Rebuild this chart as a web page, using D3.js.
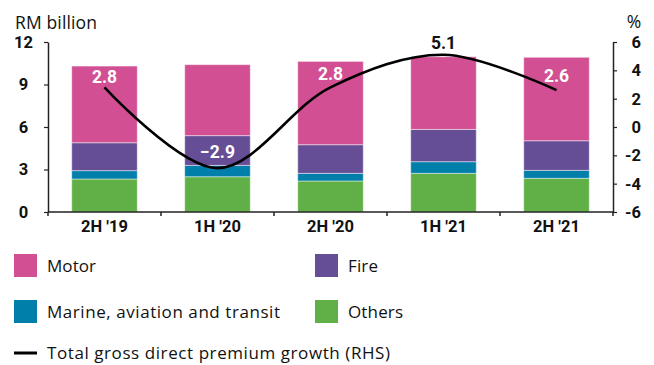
<!DOCTYPE html>
<html>
<head>
<meta charset="utf-8">
<script src="https://cdn.jsdelivr.net/npm/d3@7"></script>
<style>
  html, body { margin: 0; padding: 0; background: #fff; }
  svg { display: block; font-family: Roboto, "Noto Sans", sans-serif; }
  .reg { font-family: "Open Sans", "Noto Sans", sans-serif; }
</style>
</head>
<body>
<svg id="chart" width="654" height="365"></svg>
<script>
// Half-year periods
const periods = ["2H '19", "1H '20", "2H '20", "1H '21", "2H '21"];

// Gross direct premiums by class (RM billion)
const others = [2.33, 2.49, 2.19, 2.73, 2.38];
const marine = [0.59, 0.80, 0.54, 0.82, 0.56];
const fire   = [1.97, 2.10, 2.02, 2.28, 2.09];
const motor  = [5.41, 5.01, 5.88, 5.13, 5.89];

// Total gross direct premium growth (%, RHS)
const growth = [2.8, -2.9, 2.8, 5.1, 2.6];

const leftTicks  = [0, 3, 6, 9, 12];
const rightTicks = [-6, -4, -2, 0, 2, 4, 6];

const seriesNames  = ["Others", "Marine, aviation and transit", "Fire", "Motor"];
const seriesColors = ["#60AF47", "#007FAB", "#664E96", "#D14F92"];

const svg = d3.select("#chart");
const margin = { left: 48, right: 41, top: 42, bottom: 153 };
const W = 654, H = 365;

const x = d3.scaleBand().domain(periods)
  .range([margin.left, W - margin.right]).paddingInner(0.42).paddingOuter(0.21);
const xPoint = d => x(d) + x.bandwidth() / 2;
const yL = d3.scaleLinear().domain([0, 12]).range([H - margin.bottom, margin.top]);
const yR = d3.scaleLinear().domain([-6, 6]).range([H - margin.bottom, margin.top]);

// Stacked bars
const rows = periods.map((p, i) => ({
  period: p,
  "Others": others[i],
  "Marine, aviation and transit": marine[i],
  "Fire": fire[i],
  "Motor": motor[i]
}));
const stacked = d3.stack().keys(seriesNames)(rows);

svg.append("g").selectAll("g").data(stacked).join("g")
  .attr("fill", (d, i) => seriesColors[i])
  .selectAll("rect").data(d => d).join("rect")
  .attr("x", d => x(d.data.period))
  .attr("width", x.bandwidth())
  .attr("y", d => yL(d[1]))
  .attr("height", d => yL(d[0]) - yL(d[1]))
  .attr("stroke", "#fff")
  .attr("stroke-opacity", 0.45)
  .attr("stroke-width", 1);

// Axes
const axisColor = "#222";

// Left axis
const gL = svg.append("g").attr("transform", `translate(${margin.left},0)`)
  .call(d3.axisLeft(yL).tickValues(leftTicks).tickSize(4).tickSizeOuter(0));
gL.selectAll("text").remove();
svg.append("g").selectAll("text").data(leftTicks).join("text")
  .attr("x", 23.5).attr("y", d => yL(d)).attr("dy", "0.36em")
  .attr("text-anchor", "middle")
  .style("font-size", "16.5px").style("font-weight", 700)
  .attr("fill", "#111").text(d => d);

// Right axis
const gR = svg.append("g").attr("transform", `translate(${W - margin.right},0)`)
  .call(d3.axisRight(yR).tickValues(rightTicks).tickSize(4).tickSizeOuter(0));
gR.selectAll("text").remove();
svg.append("g").selectAll("text").data(rightTicks).join("text")
  .attr("x", 641).attr("y", d => yR(d)).attr("dy", "0.36em")
  .attr("text-anchor", "end")
  .style("font-size", "16.5px").style("font-weight", 700)
  .attr("fill", "#111").text(d => d);

// Bottom axis: ticks at category boundaries
const boundaries = d3.range(periods.length + 1)
  .map(i => margin.left + i * (W - margin.left - margin.right) / periods.length);
const gB = svg.append("g");
gB.append("line")
  .attr("x1", margin.left).attr("x2", W - margin.right)
  .attr("y1", yL(0)).attr("y2", yL(0));
gB.selectAll("line.tk").data(boundaries).join("line").attr("class", "tk")
  .attr("x1", d => d).attr("x2", d => d)
  .attr("y1", yL(0)).attr("y2", yL(0) + 4);
gB.selectAll("text").data(periods).join("text")
  .attr("x", d => xPoint(d)).attr("y", yL(0) + 14).attr("dy", "0.36em")
  .attr("text-anchor", "middle")
  .style("font-size", "16.5px").style("font-weight", 700)
  .attr("fill", "#111").text(d => d);

[gL, gR].forEach(g => {
  g.select(".domain").attr("stroke", axisColor).attr("stroke-width", 1.5);
  g.selectAll(".tick line").attr("stroke", axisColor).attr("stroke-width", 1.2);
});
gB.selectAll("line").attr("stroke", axisColor).attr("stroke-width", 1.5);

// Axis titles
svg.append("text").attr("class", "reg").attr("x", 15).attr("y", 29)
  .style("font-size", "17.5px").attr("fill", "#111")
  .attr("textLength", 82).attr("lengthAdjust", "spacing").text("RM billion");
svg.append("text").attr("class", "reg").attr("x", 634).attr("y", 28).attr("text-anchor", "middle")
  .style("font-size", "17.5px").attr("fill", "#111").text("%");

// Growth line
const line = d3.line()
  .x((d, i) => xPoint(periods[i]))
  .y(d => yR(d))
  .curve(d3.curveCatmullRom.alpha(0.5));
svg.append("path").datum(growth)
  .attr("d", line)
  .attr("fill", "none").attr("stroke", "#000").attr("stroke-width", 2.6);

// Growth labels
const labelOffset = [11, 16, 14, 12, 14];
const labelColor  = ["#fff", "#fff", "#fff", "#111", "#fff"];
svg.append("g").selectAll("text").data(growth).join("text")
  .attr("x", (d, i) => xPoint(periods[i]))
  .attr("y", (d, i) => yR(d) - labelOffset[i])
  .attr("dy", "0.36em")
  .attr("text-anchor", "middle")
  .style("font-size", "17.5px").style("font-weight", 700)
  .attr("fill", (d, i) => labelColor[i])
  .text(d => d3.format(".1f")(d));

// Legend
const legendItems = [
  { name: "Motor", color: "#D14F92", x: 14, y: 254, len: 49 },
  { name: "Fire", color: "#664E96", x: 315, y: 254, len: 30 },
  { name: "Marine, aviation and transit", color: "#007FAB", x: 14, y: 300, len: 233 },
  { name: "Others", color: "#60AF47", x: 315, y: 300, len: 55 }
];
const lg = svg.append("g");
legendItems.forEach(it => {
  lg.append("rect").attr("x", it.x).attr("y", it.y).attr("width", 23).attr("height", 23).attr("fill", it.color);
  lg.append("text").attr("class", "reg").attr("x", it.x + 33).attr("y", it.y + 11.5).attr("dy", "0.36em")
    .style("font-size", "17px").attr("fill", "#111")
    .attr("textLength", it.len).attr("lengthAdjust", "spacing").text(it.name);
});
lg.append("line").attr("x1", 14).attr("x2", 37).attr("y1", 353).attr("y2", 353)
  .attr("stroke", "#000").attr("stroke-width", 3);
lg.append("text").attr("class", "reg").attr("x", 47).attr("y", 353).attr("dy", "0.36em")
  .style("font-size", "17px").attr("fill", "#111")
  .attr("textLength", 343).attr("lengthAdjust", "spacing")
  .text("Total gross direct premium growth (RHS)");
</script>
</body>
</html>
